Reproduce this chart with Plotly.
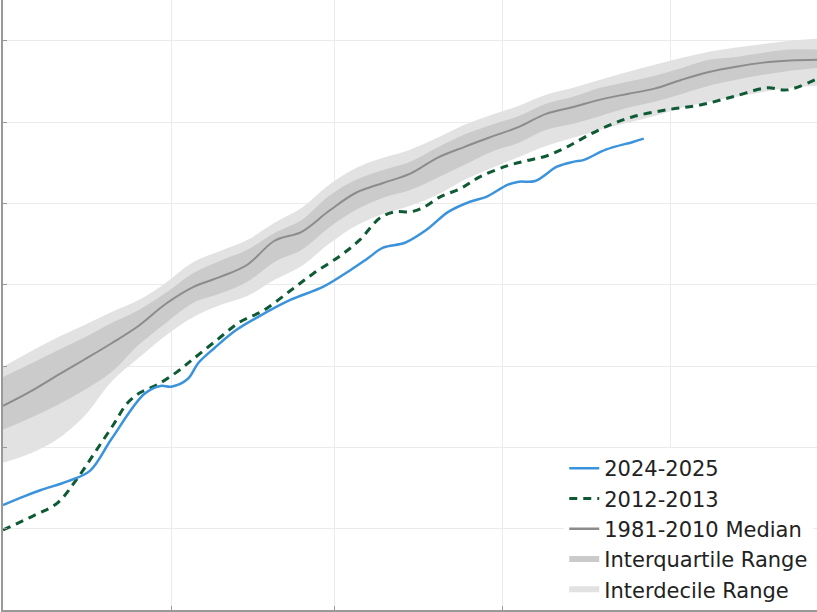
import plotly.graph_objects as go

# days since 1 October
band_days = [0, 5, 10, 15, 20, 25, 30, 35, 40, 45, 50, 55, 60, 65, 70, 75,
             80, 85, 90, 95, 100, 105, 110, 115, 120, 125, 130, 135, 140, 145, 150]
median = [7.02, 7.37, 7.77, 8.16, 8.56, 8.99, 9.53, 9.94, 10.19, 10.49, 11.08, 11.30,
          11.81, 12.26, 12.50, 12.73, 13.12, 13.39, 13.64, 13.88, 14.20, 14.37, 14.55,
          14.69, 14.82, 15.04, 15.23, 15.36, 15.46, 15.51, 15.53]
q75 = [7.73, 8.05, 8.38, 8.70, 9.06, 9.38, 9.80, 10.28, 10.59, 10.86, 11.27, 11.59,
       12.18, 12.58, 12.82, 13.02, 13.37, 13.69, 13.93, 14.15, 14.45, 14.62, 14.84,
       14.99, 15.14, 15.33, 15.53, 15.60, 15.70, 15.78, 15.78]
q25 = [6.43, 6.72, 7.04, 7.41, 7.85, 8.52, 9.06, 9.55, 9.78, 10.07, 10.56, 10.86,
       11.40, 11.84, 12.14, 12.33, 12.63, 12.95, 13.27, 13.49, 13.81, 13.96, 14.15,
       14.35, 14.50, 14.69, 14.89, 15.04, 15.16, 15.26, 15.33]
d90 = [7.98, 8.35, 8.70, 9.01, 9.33, 9.62, 10.05, 10.55, 10.83, 11.10, 11.52, 11.89,
       12.45, 12.87, 13.12, 13.32, 13.61, 13.93, 14.18, 14.40, 14.67, 14.84, 15.04,
       15.23, 15.41, 15.58, 15.73, 15.83, 15.92, 16.00, 16.05]
d10 = [5.62, 5.85, 6.20, 6.77, 7.62, 8.20, 8.75, 9.20, 9.50, 9.72, 10.12, 10.46,
       11.00, 11.45, 11.74, 11.94, 12.21, 12.58, 12.87, 13.14, 13.41, 13.61, 13.81,
       13.98, 14.15, 14.35, 14.50, 14.62, 14.74, 14.84, 14.89]

days_2024 = [0, 4, 7, 12, 16, 20, 26, 29, 31, 34, 36, 39, 43, 47, 53, 59, 64, 67,
             70, 74, 78, 82, 86, 89, 93, 95, 98, 102, 105, 107, 111, 116, 118]
ext_2024 = [4.58, 4.80, 4.95, 5.17, 5.42, 6.21, 7.31, 7.51, 7.49, 7.68, 8.08, 8.45,
            8.89, 9.21, 9.63, 9.95, 10.36, 10.63, 10.91, 11.03, 11.35, 11.79, 12.04,
            12.16, 12.46, 12.53, 12.55, 12.90, 13.02, 13.07, 13.32, 13.51, 13.59]

days_2012 = [0, 5.5, 10, 13.6, 17, 20.3, 22.8, 25.2, 28.4, 32, 35, 39.4, 43.6, 47.9,
             52.9, 57.1, 62.1, 65.7, 69.4, 72.2, 75, 77.3, 80.5, 84.2, 87.8, 92.8,
             96.5, 100.2, 103.9, 107.6, 111.8, 116, 122.3, 128.4, 134.4, 140.7, 144.4,
             149.9]
ext_2012 = [3.97, 4.31, 4.63, 5.22, 5.89, 6.55, 7.07, 7.34, 7.54, 7.85, 8.17, 8.64,
            9.08, 9.36, 9.85, 10.27, 10.71, 11.10, 11.64, 11.79, 11.79, 11.89, 12.16,
            12.36, 12.65, 12.92, 13.05, 13.17, 13.39, 13.66, 13.93, 14.13, 14.30,
            14.42, 14.62, 14.84, 14.79, 15.06]

month_ticks = [31, 61, 92, 123]
value_ticks = [2, 4, 6, 8, 10, 12, 14, 16]

band_light = "#e2e2e2"
band_dark = "#cbcbcb"

fig = go.Figure()

# interdecile range
fig.add_trace(go.Scatter(x=band_days, y=d10, mode="lines", line=dict(width=0, shape="spline"),
                         showlegend=False, hoverinfo="skip"))
fig.add_trace(go.Scatter(x=band_days, y=d90, mode="lines", line=dict(width=0, shape="spline"),
                         fill="tonexty", fillcolor=band_light, showlegend=False, hoverinfo="skip"))
# interquartile range
fig.add_trace(go.Scatter(x=band_days, y=q25, mode="lines", line=dict(width=0, shape="spline"),
                         showlegend=False, hoverinfo="skip"))
fig.add_trace(go.Scatter(x=band_days, y=q75, mode="lines", line=dict(width=0, shape="spline"),
                         fill="tonexty", fillcolor=band_dark, showlegend=False, hoverinfo="skip"))

fig.add_trace(go.Scatter(x=band_days, y=median, mode="lines", name="1981-2010 Median",
                         line=dict(color="#8c8c8c", width=2, shape="spline"), showlegend=False))
fig.add_trace(go.Scatter(x=days_2012, y=ext_2012, mode="lines", name="2012-2013",
                         line=dict(color="#0d5a34", width=3, dash="8px,6px", shape="spline"),
                         showlegend=False))
fig.add_trace(go.Scatter(x=days_2024, y=ext_2024, mode="lines", name="2024-2025",
                         line=dict(color="#3a93db", width=2.5, shape="spline"),
                         showlegend=False))

# legend entries
legend_items = [
    ("2024-2025", "#3a93db", 2.5, "solid"),
    ("2012-2013", "#0d5a34", 3, "8px,6px"),
    ("1981-2010 Median", "#8c8c8c", 2.5, "solid"),
    ("Interquartile Range", band_dark, 6, "solid"),
    ("Interdecile Range", band_light, 6, "solid"),
]
for name, color, width, dash in legend_items:
    fig.add_trace(go.Scatter(x=[None], y=[None], mode="lines", name=name,
                             line=dict(color=color, width=width, dash=dash)))

fig.update_layout(
    width=817,
    height=612,
    margin=dict(l=3, r=0, t=0, b=2, autoexpand=False),
    plot_bgcolor="white",
    paper_bgcolor="white",
    font=dict(family="DejaVu Sans", color="#222222"),
    legend=dict(
        x=0.6895, y=0.0, xanchor="left", yanchor="bottom",
        bgcolor="white", borderwidth=0,
        font=dict(size=21, family="DejaVu Sans", color="#222222"),
        traceorder="normal",
    ),
)
fig.update_xaxes(range=[0, 149.9], tickvals=month_ticks, showticklabels=False,
                 showgrid=True, gridcolor="#ebebeb", gridwidth=1, zeroline=False,
                 showline=True, linecolor="#999999", linewidth=2,
                 ticks="inside", ticklen=4, tickcolor="#999999")
fig.update_yaxes(range=[2, 17], tickvals=value_ticks, showticklabels=False,
                 showgrid=True, gridcolor="#ebebeb", gridwidth=1, zeroline=False,
                 showline=True, linecolor="#999999", linewidth=2,
                 ticks="inside", ticklen=4, tickcolor="#999999")

fig.write_html("out.html", config={"displayModeBar": False},
               post_script="document.body.style.margin = '0';")
